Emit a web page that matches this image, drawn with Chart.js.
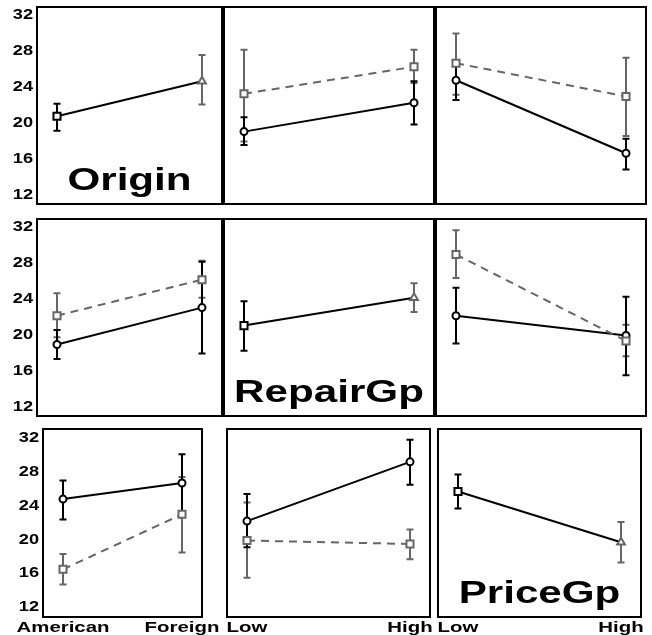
<!DOCTYPE html>
<html>
<head>
<meta charset="utf-8">
<script src="https://cdn.jsdelivr.net/npm/chart.js@4.4.0/dist/chart.umd.min.js"></script>
<style>
  html, body { margin: 0; padding: 0; background: #fff; }
  body { position: relative; width: 652px; height: 635px; overflow: hidden; }
  canvas { position: absolute; }
</style>
</head>
<body>
<script>
// niveaux des facteurs
const originLevels = ['American', 'Foreign'];
const repairLevels = ['Low', 'High'];
const priceLevels = ['Low', 'High'];
const yTicks = [12, 16, 20, 24, 28, 32];

// diagonale : moyenne et limites
const originMean = [20.8, 24.7];
const originLo = [19.2, 22.1];
const originHi = [22.2, 27.6];
const repairMean = [21.1, 24.2];
const repairLo = [18.3, 22.6];
const repairHi = [23.8, 25.8];
const priceMean = [25.7, 19.7];
const priceLo = [23.7, 17.3];
const priceHi = [27.7, 22.1];

// ligne Origin : American / Foreign selon RepairGp puis PriceGp
const americanByRepair = [19.1, 22.3];
const americanByRepairLo = [17.6, 19.9];
const americanByRepairHi = [20.7, 24.7];
const foreignByRepair = [23.3, 26.3];
const foreignByRepairLo = [18.0, 24.5];
const foreignByRepairHi = [28.2, 28.2];
const americanByPrice = [24.8, 16.7];
const americanByPriceLo = [22.6, 14.9];
const americanByPriceHi = [27.0, 18.3];
const foreignByPrice = [26.7, 23.0];
const foreignByPriceLo = [23.2, 18.6];
const foreignByPriceHi = [30.0, 27.3];

// ligne RepairGp : Low / High selon Origin puis PriceGp
const repLowByOrigin = [19.0, 23.1];
const repLowByOriginLo = [17.4, 18.0];
const repLowByOriginHi = [20.6, 28.2];
const repHighByOrigin = [22.2, 26.2];
const repHighByOriginLo = [19.8, 24.2];
const repHighByOriginHi = [24.7, 28.3];
const repLowByPrice = [22.2, 20.0];
const repLowByPriceLo = [19.1, 15.6];
const repLowByPriceHi = [25.3, 24.3];
const repHighByPrice = [29.0, 19.4];
const repHighByPriceLo = [26.4, 17.7];
const repHighByPriceHi = [31.7, 21.2];

// ligne PriceGp : Low / High selon Origin puis RepairGp
const priceLowByOrigin = [24.8, 26.7];
const priceLowByOriginLo = [22.4, 23.3];
const priceLowByOriginHi = [27.0, 30.1];
const priceHighByOrigin = [16.5, 23.0];
const priceHighByOriginLo = [14.7, 18.5];
const priceHighByOriginHi = [18.3, 27.4];
const priceLowByRepair = [22.2, 29.2];
const priceLowByRepairLo = [19.1, 26.5];
const priceLowByRepairHi = [25.4, 31.8];
const priceHighByRepair = [19.9, 19.5];
const priceHighByRepairLo = [15.5, 17.7];
const priceHighByRepairHi = [24.4, 21.2];

const BLACK = '#000000';
const GRAY = '#666666';

// texte gras étiré horizontalement
function wideText(ctx, txt, x, y, size, align, sx, base) {
  ctx.save();
  ctx.translate(x, y);
  ctx.scale(sx, 1);
  ctx.font = 'bold ' + size + 'px "Liberation Sans", Arial, sans-serif';
  ctx.textAlign = align;
  ctx.textBaseline = base;
  ctx.fillStyle = '#000';
  ctx.fillText(txt, 0, 0);
  ctx.restore();
}

function makePlugin(meta) {
  return {
    id: 'panelDeco',
    beforeDatasetsDraw(chart) {
      const ctx = chart.ctx, xs = chart.scales.x, ys = chart.scales.y;
      chart.data.datasets.forEach(ds => {
        ds.data.forEach((p, i) => {
          const px = xs.getPixelForValue(p.x);
          const top = ys.getPixelForValue(ds.errHi[i]);
          const bot = ys.getPixelForValue(ds.errLo[i]);
          ctx.save();
          ctx.strokeStyle = Array.isArray(ds.errColor) ? ds.errColor[i] : ds.errColor;
          ctx.lineWidth = 2;
          ctx.beginPath();
          ctx.moveTo(px, top); ctx.lineTo(px, bot);
          ctx.moveTo(px - 3.5, top); ctx.lineTo(px + 3.5, top);
          ctx.moveTo(px - 3.5, bot); ctx.lineTo(px + 3.5, bot);
          ctx.stroke();
          ctx.restore();
        });
      });
    },
    afterDraw(chart) {
      const ctx = chart.ctx, a = chart.chartArea;
      ctx.save();
      ctx.strokeStyle = '#000';
      ctx.lineWidth = 2;
      ctx.strokeRect(a.left + 1, a.top + 1, a.right - a.left - 2, a.bottom - a.top - 2);
      ctx.restore();
      if (meta.yLabels) {
        yTicks.forEach(v => wideText(ctx, String(v), a.left - 3, chart.scales.y.getPixelForValue(v), 14, 'right', 1.3, 'middle'));
      }
      if (meta.xLabels) {
        meta.xLabels.forEach((t, i) => wideText(ctx, t, chart.scales.x.getPixelForValue(i), a.bottom + 14, 15, 'center', 1.36, 'alphabetic'));
      }
      if (meta.title) {
        wideText(ctx, meta.title, (a.left + a.right) / 2, a.bottom - 15, 31, 'center', 1.36, 'alphabetic');
      }
    }
  };
}

function pts(vals) {
  return vals.map((v, i) => ({ x: i, y: v }));
}

// courbe d'interaction : noir plein (cercle) ou gris pointillé (carré)
function series(vals, lo, hi, gray) {
  return {
    data: pts(vals),
    errLo: lo,
    errHi: hi,
    errColor: gray ? GRAY : BLACK,
    borderColor: gray ? GRAY : BLACK,
    borderWidth: 2,
    borderDash: gray ? [8, 6] : [],
    pointStyle: gray ? 'rect' : 'circle',
    pointRadius: gray ? 5 : 3.5,
    pointBorderColor: gray ? GRAY : BLACK,
    pointBackgroundColor: '#fff',
    pointBorderWidth: 2,
    tension: 0
  };
}

// diagonale : carré noir puis triangle gris, trait noir
function diagSeries(vals, lo, hi) {
  return {
    data: pts(vals),
    errLo: lo,
    errHi: hi,
    errColor: [BLACK, GRAY],
    borderColor: BLACK,
    borderWidth: 2,
    pointStyle: ['rect', 'triangle'],
    pointRadius: [5, 4.5],
    pointBorderColor: [BLACK, GRAY],
    pointBackgroundColor: '#fff',
    pointBorderWidth: 2,
    tension: 0
  };
}

const rows = [
  { top: 6, h: 199, padB: 0, yMin: 10.95, yMax: 33.05 },
  { top: 218, h: 199, padB: 0, yMin: 10.95, yMax: 33.05 },
  { top: 428, h: 207, padB: 17, yMin: 10.75, yMax: 33.2 }
];
const colsTop = [
  { left: 0, w: 223, padL: 36, padR: 0 },
  { left: 223, w: 212, padL: 0, padR: 0 },
  { left: 435, w: 212, padL: 0, padR: 0 }
];
const colsBottom = [
  { left: 0, w: 224, padL: 42, padR: 21 },
  { left: 224, w: 209, padL: 2, padR: 2 },
  { left: 433, w: 219, padL: 4, padR: 10 }
];

function addPanel(r, c, datasets, meta) {
  const row = rows[r];
  const col = (r === 2 ? colsBottom : colsTop)[c];
  const cv = document.createElement('canvas');
  cv.width = col.w;
  cv.height = row.h;
  cv.style.left = col.left + 'px';
  cv.style.top = row.top + 'px';
  document.body.appendChild(cv);
  const plotW = col.w - col.padL - col.padR;
  const xPad = 21 / (plotW - 42);
  new Chart(cv, {
    type: 'line',
    data: { datasets: datasets },
    options: {
      responsive: false,
      animation: false,
      events: [],
      layout: { autoPadding: false, padding: { left: col.padL, right: col.padR, top: 0, bottom: row.padB } },
      plugins: { legend: { display: false }, tooltip: { enabled: false } },
      scales: {
        x: { type: 'linear', display: false, min: -xPad, max: 1 + xPad },
        y: { type: 'linear', display: false, min: row.yMin, max: row.yMax }
      }
    },
    plugins: [makePlugin(meta)]
  });
}

// ligne 1
addPanel(0, 0, [diagSeries(originMean, originLo, originHi)], { yLabels: true, title: 'Origin' });
addPanel(0, 1, [
  series(foreignByRepair, foreignByRepairLo, foreignByRepairHi, true),
  series(americanByRepair, americanByRepairLo, americanByRepairHi, false)
], {});
addPanel(0, 2, [
  series(foreignByPrice, foreignByPriceLo, foreignByPriceHi, true),
  series(americanByPrice, americanByPriceLo, americanByPriceHi, false)
], {});

// ligne 2
addPanel(1, 0, [
  series(repHighByOrigin, repHighByOriginLo, repHighByOriginHi, true),
  series(repLowByOrigin, repLowByOriginLo, repLowByOriginHi, false)
], { yLabels: true });
addPanel(1, 1, [diagSeries(repairMean, repairLo, repairHi)], { title: 'RepairGp' });
addPanel(1, 2, [
  series(repHighByPrice, repHighByPriceLo, repHighByPriceHi, true),
  series(repLowByPrice, repLowByPriceLo, repLowByPriceHi, false)
], {});

// ligne 3
addPanel(2, 0, [
  series(priceHighByOrigin, priceHighByOriginLo, priceHighByOriginHi, true),
  series(priceLowByOrigin, priceLowByOriginLo, priceLowByOriginHi, false)
], { yLabels: true, xLabels: originLevels });
addPanel(2, 1, [
  series(priceHighByRepair, priceHighByRepairLo, priceHighByRepairHi, true),
  series(priceLowByRepair, priceLowByRepairLo, priceLowByRepairHi, false)
], { xLabels: repairLevels });
addPanel(2, 2, [diagSeries(priceMean, priceLo, priceHi)], { xLabels: priceLevels, title: 'PriceGp' });
</script>
</body>
</html>
